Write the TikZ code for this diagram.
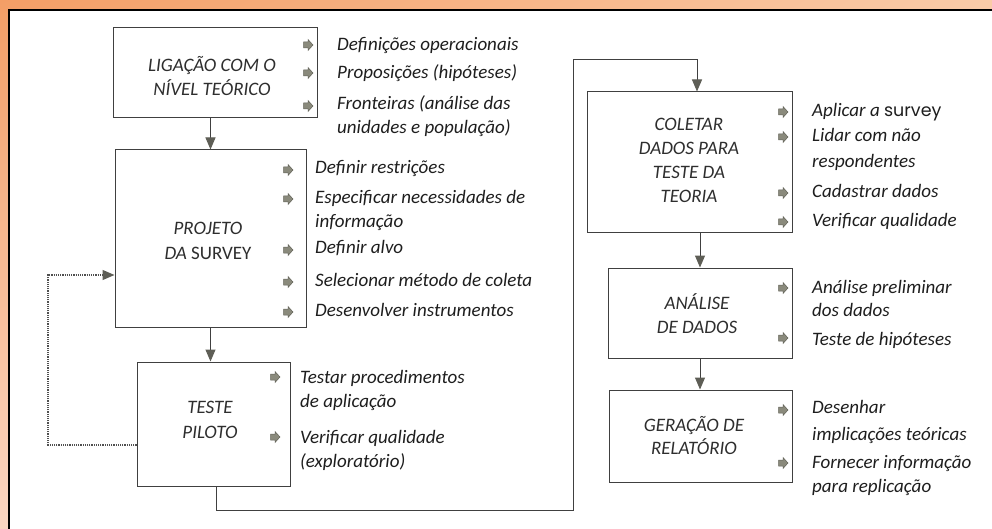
\documentclass[tikz,border=0pt]{standalone}
\usepackage{fontspec}
\setmainfont{Carlito}
\newfontfamily\gothic[Scale=0.92]{Poppins}
\usetikzlibrary{arrows.meta,shadings}
\definecolor{lnc}{HTML}{404040}
\definecolor{tipc}{HTML}{5E5E56}
\definecolor{bulc}{HTML}{8A8A7C}
\definecolor{buld}{HTML}{626258}
\definecolor{txc}{HTML}{1E1E1E}
\definecolor{ttc}{HTML}{2E2E2E}
\definecolor{fbc}{HTML}{505050}
\definecolor{orUL}{HTML}{F49E66}
\definecolor{orUR}{HTML}{FACBA8}
\definecolor{orLL}{HTML}{FAD6C2}
\definecolor{orLR}{HTML}{FDEBDF}
\newcommand\mytitle[1]{\begin{tabular}[t]{@{}c@{}}#1\end{tabular}}
\newcommand\myitems[1]{\begin{tabular}[t]{@{}l@{}}#1\end{tabular}}
\begin{document}
\begin{tikzpicture}[x=1pt,y=-1pt,
  box/.style={draw=lnc, line width=1pt, fill=white, inner sep=0pt},
  ttl/.style={anchor=base, inner sep=0pt, text=ttc, font=\fontsize{19}{24}\selectfont\itshape},
  itm/.style={anchor=base west, inner sep=0pt, text=txc, font=\fontsize{19}{25}\selectfont\itshape},
  arr/.style={draw=lnc, line width=1pt, -{Triangle[width=10pt,length=12pt,color=tipc]}},
  fb/.style={draw=fbc, line width=1.2pt, densely dotted, -{Triangle[width=10pt,length=12pt,color=tipc]}},
  bul/.pic={\filldraw[fill=bulc, draw=buld, line width=0.5pt]
     (-4.5,-3) -- (0,-3) -- (0,-5.5) -- (5,0) -- (0,5.5) -- (0,3) -- (-4.5,3) -- cycle;}
]
\useasboundingbox (0,0) rectangle (992,529);
% background frame
\shade[upper left=orUL, upper right=orUR, lower left=orLL, lower right=orLR] (0,0) rectangle (992,529);
\fill[white] (9,10) rectangle (992,529);
\draw[black, line width=1.6pt] (9,529) -- (9,10) -- (992,10);

% boxes
\node[box, minimum width=204pt, minimum height=90pt]  (b1) at (215,73)    {};
\node[box, minimum width=191pt, minimum height=177pt] (b2) at (210.5,238.5) {};
\node[box, minimum width=153pt, minimum height=124pt] (b3) at (213.5,424) {};
\node[box, minimum width=205pt, minimum height=141pt] (b4) at (689.5,162.5) {};
\node[box, minimum width=184pt, minimum height=90pt]  (b5) at (700,313)   {};
\node[box, minimum width=183pt, minimum height=92pt]  (b6) at (700.5,436) {};

% titles
\node[ttl] (t1) at (212,72)  {\mytitle{LIGAÇÃO COM O\\NÍVEL TEÓRICO}};
\node[ttl, font=\fontsize{19}{25}\selectfont\itshape] (t2) at (208,234) {\mytitle{PROJETO\\DA {\upshape SURVEY}}};
\node[ttl, font=\fontsize{19}{25}\selectfont\itshape] (t3) at (210,413) {\mytitle{TESTE\\PILOTO}};
\node[ttl] (t4) at (689,131) {\mytitle{COLETAR\\DADOS PARA\\TESTE DA\\TEORIA}};
\node[ttl] (t5) at (697,309) {\mytitle{ANÁLISE\\DE DADOS}};
\node[ttl, font=\fontsize{19}{23}\selectfont\itshape] (t6) at (694,431) {\mytitle{GERAÇÃO DE\\RELATÓRIO}};

% bullets
\foreach \y in {45,73,106} \pic at (308,\y) {bul};
\foreach \y in {170,199,250,282,312} \pic at (288,\y) {bul};
\foreach \y in {377,437} \pic at (275,\y) {bul};
\foreach \y in {112,137,193,222} \pic at (783,\y) {bul};
\foreach \y in {288,338} \pic at (783,\y) {bul};
\foreach \y in {410,463} \pic at (783,\y) {bul};

% items box 1
\node[itm] (i11) at (337,51)  {Definições operacionais};
\node[itm] (i12) at (337,79)  {Proposições (hipóteses)};
\node[itm, font=\fontsize{19}{24}\selectfont\itshape] (i13) at (337,110) {\myitems{Fronteiras (análise das\\unidades e população)}};
% items box 2
\node[itm] (i21) at (315,174) {Definir restrições};
\node[itm, font=\fontsize{19}{24}\selectfont\itshape] (i22) at (315,204) {\myitems{Especificar necessidades de\\informação}};
\node[itm] (i23) at (315,254) {Definir alvo};
\node[itm] (i24) at (315,286) {Selecionar método de coleta};
\node[itm] (i25) at (315,316) {Desenvolver instrumentos};
% items box 3
\node[itm, font=\fontsize{19}{24}\selectfont\itshape] (i31) at (300,383) {\myitems{Testar procedimentos\\de aplicação}};
\node[itm, font=\fontsize{19}{24}\selectfont\itshape] (i32) at (300,443) {\myitems{Verificar qualidade\\(exploratório)}};
% items box 4
\node[itm] (i41) at (812,117) {Aplicar a {\upshape\gothic survey}};
\node[itm, font=\fontsize{19}{26}\selectfont\itshape] (i42) at (812,142) {\myitems{Lidar com não\\respondentes}};
\node[itm] (i43) at (812,198) {Cadastrar dados};
\node[itm] (i44) at (812,227) {Verificar qualidade};
% items box 5
\node[itm, font=\fontsize{19}{23}\selectfont\itshape] (i51) at (812,293) {\myitems{Análise preliminar\\dos dados}};
\node[itm] (i52) at (812,345) {Teste de hipóteses};
% items box 6
\node[itm, font=\fontsize{19}{27}\selectfont\itshape] (i61) at (812,413) {\myitems{Desenhar\\implicações teóricas}};
\node[itm, font=\fontsize{19}{24}\selectfont\itshape] (i62) at (812,468) {\myitems{Fornecer informação\\para replicação}};

% connectors
\draw[arr] (b2.north |- b1.south) -- (b2.north);
\draw[arr] (b2.south) -- (b2.south |- b3.north);
\coordinate (k1) at (216,510);
\coordinate (k2) at (573,510);
\coordinate (k3) at (573,60);
\coordinate (k4) at (697,60);
\draw[arr] (b3.south -| k1) -- (k1) -- (k2) -- (k3) -- (k4) -- (k4 |- b4.north);
\draw[arr] (b5.north |- b4.south) -- (b5.north);
\draw[arr] (b5.south) -- (b5.south |- b6.north);
\coordinate (f1) at (48,445);
\coordinate (f2) at (48,275);
\draw[fb] (b3.west |- f1) -- (f1) -- (f2) -- (b2.west |- f2);
\end{tikzpicture}
\end{document}
